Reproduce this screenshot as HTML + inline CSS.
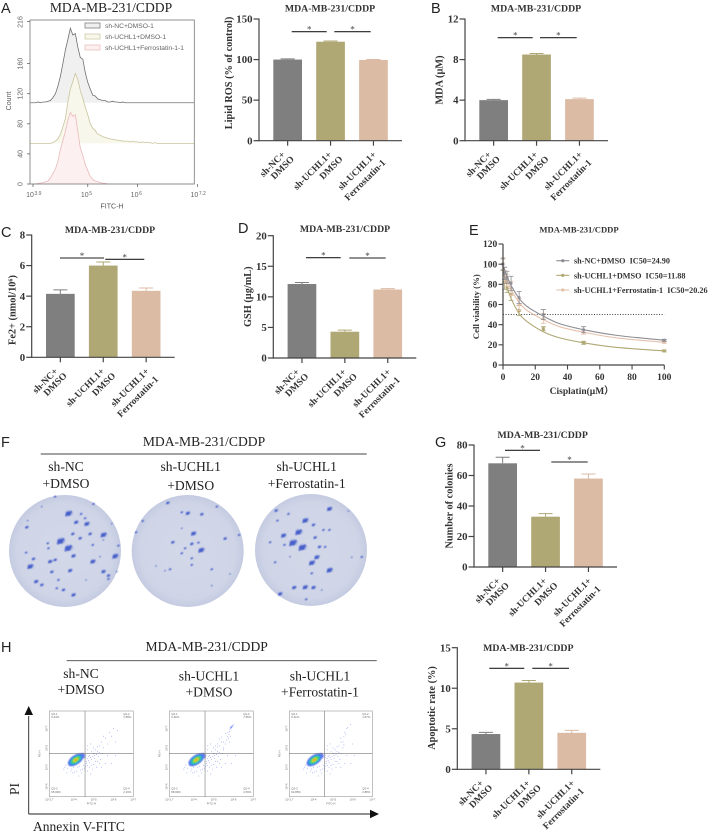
<!DOCTYPE html>
<html lang="en">
<head>
<meta charset="utf-8">
<title>MDA-MB-231/CDDP figure</title>
<style>
html,body{margin:0;padding:0;background:#fff;}
#fig{display:block;width:708px;height:833px;filter:blur(.3px);}
.serif{font-family:"Liberation Serif",serif;}
.sans{font-family:"Liberation Sans",sans-serif;}
.letter{font-family:"Liberation Sans",sans-serif;font-size:14.5px;fill:#222;}
.head{font-family:"Liberation Serif",serif;font-size:13.6px;fill:#222;text-anchor:middle;}
</style>
</head>
<body>
<svg id="fig" xmlns="http://www.w3.org/2000/svg" width="708" height="833" viewBox="0 0 708 833">
  <defs>
    <radialGradient id="dishFill" cx="50%" cy="50%" r="50%">
      <stop offset="0%" stop-color="#d3d8e9"/>
      <stop offset="85%" stop-color="#cfd5e7"/>
      <stop offset="100%" stop-color="#c4cbe1"/>
    </radialGradient>
    <filter id="soft" x="-5%" y="-5%" width="110%" height="110%"><feGaussianBlur stdDeviation=".45"/></filter>
    <filter id="softBlob" x="-30%" y="-30%" width="160%" height="160%"><feGaussianBlur stdDeviation=".6"/></filter>
  </defs>
  <rect width="708" height="833" fill="#fff"/>
  <text class="letter" x="1" y="13">A</text>
  <text class="letter" x="431" y="13">B</text>
  <text class="letter" x="1" y="237">C</text>
  <text class="letter" x="238" y="233">D</text>
  <text class="letter" x="469" y="235">E</text>
  <text class="letter" x="1" y="447">F</text>
  <text class="letter" x="435" y="447">G</text>
  <text class="letter" x="1" y="652">H</text>

  <text class="head" x="111" y="12">MDA-MB-231/CDDP</text>

  <text class="head" x="204" y="446">MDA-MB-231/CDDP</text>
  <line x1="40.7" x2="366.7" y1="454" y2="454" stroke="#444" stroke-width=".9"/>
  <text class="head" x="66" y="471">sh-NC</text>
  <text class="head" x="66" y="488">+DMSO</text>
  <text class="head" x="190.7" y="471">sh-UCHL1</text>
  <text class="head" x="190.7" y="490">+DMSO</text>
  <text class="head" x="306.7" y="471">sh-UCHL1</text>
  <text class="head" x="306.7" y="488">+Ferrostatin-1</text>

  <text class="head" x="206.7" y="651">MDA-MB-231/CDDP</text>
  <line x1="66.7" x2="376.7" y1="660.7" y2="660.7" stroke="#444" stroke-width=".9"/>
  <text class="head" x="81" y="678">sh-NC</text>
  <text class="head" x="81" y="694">+DMSO</text>
  <text class="head" x="209" y="680.7">sh-UCHL1</text>
  <text class="head" x="209" y="696.7">+DMSO</text>
  <text class="head" x="320" y="680.7">sh-UCHL1</text>
  <text class="head" x="320" y="696.7">+Ferrostatin-1</text>

  <line x1="28.7" x2="28.7" y1="716" y2="814" stroke="#222" stroke-width=".9"/>
  <polygon points="28.7,706 24.5,715 33,715" fill="#111"/>
  <line x1="28.7" x2="372" y1="814" y2="814" stroke="#222" stroke-width=".9"/>
  <polygon points="379,814 370,809.8 370,818.2" fill="#111"/>
  <text class="head" transform="translate(19 789) rotate(-90)">PI</text>
  <text class="serif" x="33" y="831" font-size="13.5" fill="#222">Annexin V-FITC</text>
</svg>
<script>
/* ---------- chart data ---------- */
const groupLabels = [['sh-NC+','DMSO'],['sh-UCHL1+','DMSO'],['sh-UCHL1+','Ferrostatin-1']];
const lipidRosValues = [100,122,99.5];
const lipidRosErrors = [0.8,0.9,0.6];
const lipidRosTicks = [0,50,100,150];
const mdaValues = [4,8.5,4.1];
const mdaErrors = [0.08,0.1,0.1];
const mdaTicks = [0,4,8,12];
const ironValues = [4.15,6,4.35];
const ironErrors = [0.26,0.23,0.18];
const ironTicks = [0,2,4,6,8];
const gshValues = [12.1,4.3,11.2];
const gshErrors = [0.25,0.25,0.15];
const gshTicks = [0,5,10,15,20];
const colonyValues = [68,33,58];
const colonyErrors = [4,2,3];
const colonyTicks = [0,20,40,60,80];
const apoptosisValues = [4.35,10.7,4.5];
const apoptosisErrors = [0.2,0.25,0.3];
const apoptosisTicks = [0,5,10,15];

const cisplatinDoses = [0,1,2.5,5,10,25,50,100];
const viabilityNc = [100,91,87,81,67,50,35,24.5];
const viabilityNcErr = [6,6,6,7,6,5,3,1];
const viabilityUchl1 = [100,82,77,70,54,36,22,14];
const viabilityUchl1Err = [6,7,5,6,5,2,1.5,1];
const viabilityFerro = [100,88,84,76,60,46,32.5,22.5];
const viabilityFerroErr = [5,6,6,7,6,5,2,1];
const fitDoses = [0,2.5,5,10,15,25,35,50,70,100];
const fitNc = [98,88,79,66,58,48.5,41,35,29.5,24.5];
const fitUchl1 = [98,78,66,51,43,33,27,22,17.5,14];
const fitFerro = [98,85,75,62,54,45,38,32.5,27,22.5];
const viabilityYTicks = [0,20,40,60,80,100,120];
const viabilityXTicks = [0,20,40,60,80,100];
const viabilityLegend = ['sh-NC+DMSO  IC50=24.90','sh-UCHL1+DMSO  IC50=11.88','sh-UCHL1+Ferrostatin-1  IC50=20.26'];

/* counts per 0.05-decade bin starting at 10^3.9, above each trace's stacking offset */
const histNc = [0,0,1,0,1,1,2,3,7,12,22,35,52,70,84,99,90,92,74,60,58,40,27,18,10,9,5,4,3,3,1,1,2,1,1,0,1,0,0,0];
const histUchl1 = [0,0,0,0,0,0,0,0,1,3,6,12,22,33,55,72,82,93,85,70,60,48,38,26,20,17,12,11,9,8,7,6,5,5,4,4,3,3,3,2,3,2,2,1,2,1,1,1,0,1,0,0,0];
const histFerro = [0,0,1,1,2,3,4,8,14,20,30,46,58,70,85,95,90,92,70,48,38,26,18,10,6,4,3,2,1,1,0,0,0];
const histOffsets = [108,54,0];
const histYTicks = [0,40,80,120,160,216];
const histXTicks = [3.9,5,6,7.2];
const histLegend = ['sh-NC+DMSO-1','sh-UCHL1+DMSO-1','sh-UCHL1+Ferrostatin-1-1'];

/* flow cytometry events as [log FITC, log PI] */
const flowCommon = [[4,5],[3.8,5.1],[3.7,4.95],[3.9,4.9],[4.2,5],[4.3,5.05],[3.75,5.3],[4.5,5.1],[4.65,5.2],[4.8,5],[5,5.15],[4.9,5.4],[5.2,5.3],[4.7,4.8],[4.4,4.7],[5.4,5],[4.8,5.6],[4.9,5.8],[5,5.7],[5.1,5.9],[5.2,5.8],[5.3,5.75],[5.15,5.65],[5,6],[5.3,6.1],[5.4,6.3],[5.5,6],[5.7,5.6],[5.9,5.2],[6.1,5.6],[5.6,5.2],[4.7,5.9],[4.7,6.1],[4.85,6.2],[4.6,5.5],[4.7,5.45],[4.75,5.35],[4.65,5.3],[4.8,5.25],[4.55,4.95],[4.9,5.1],[4.95,5.55],[5.05,5.45],[3.6,5.1],[3.5,4.9],[3.95,4.7],[4.15,4.8],[4.25,4.55],[4.85,4.65],[5.25,5.55],[5.35,5.4],[3.65,4.7],[4.6,5.05],[4.7,5.1],[4.75,5.55],[4.62,5.62],[4.85,5.5],[4.58,4.85],[4.45,4.9],[4.35,4.85],[5.1,5.3],[5.15,5],[5.3,5.2],[4.95,4.9],[3.85,4.8],[4.05,4.75],[3.55,5],[5.45,5.7],[5.05,5.6],[5.2,6.05]];
const flowNcExtra = [[5.6,6.5],[5.8,6.8],[6,7],[5.9,6.6],[6.2,6.9],[5.5,6.6],[5.7,6.2],[6.1,6.3]];
const flowUchl1Extra = [[5.88,7.07],[5.92,7.1],[5.85,7],[5.95,7.15],[5.82,6.95],[5.9,7.02],[5.98,7.12],[5.8,6.85],[5.78,6.7],[5.7,6.6],[5.75,6.5],[5.65,6.4],[5.85,6.6],[5.6,6.2],[5.5,6.3],[5.3,6.45],[5.4,6.55],[5.8,6.3],[5.72,6.8],[6.02,7.2],[5.6,6.75],[5.5,5.9],[5.2,6.2],[5.1,6.1],[5.87,7.04],[5.91,7.06],[5.89,7.12],[5.84,7.06],[5.94,7.08]];
const flowFerroExtra = [[5.55,6.6],[5.7,7],[5.75,7.05],[5.6,6.8],[5.9,7.2],[5.5,6.3],[5.65,6.7],[5.4,6.5],[5.55,6.15],[6,6.2]];
const flowCenters = [[4.1,5.38],[4.13,5.38],[4.05,5.38]];
const flowAxisX = ['10^2.7','10^4','10^5','10^6','10^7'];
const flowQuadrants = [['0.24%','1.58%','95.99%','2.19%'],['0.46%','7.56%','88.99%','2.59%'],['0.41%','1.67%','94.85%','2.88%']];

/* colonies on the three plates: [x, y, size] in plate-photo units (3 per px) */
const plateColonies = [
 [[181,349,9],[204,370,9],[205,266,8],[228,292,5],[260,297,6],[243,267,3],[255,280,3],[310,330,7],[270,327,4],[218,327,4],[240,340,4],[278,360,3],[220,393,5],[278,410,6],[345,394,7],[355,362,3],[150,410,5],[165,405,4],[90,425,7],[100,402,4],[155,441,4],[210,437,5],[108,470,5],[125,480,4],[310,440,5],[325,452,4],[325,462,3],[220,510,5],[190,495,4],[175,465,3],[80,307,4],[83,287,2],[125,245,2],[165,215,3],[280,237,3],[335,296,2],[145,370,3],[78,383,3],[300,395,2],[258,465,2],[170,490,3],[143,355,3],[310,345,2],[350,440,2]],
 [[503,234,4],[545,262,3],[563,265,5],[605,268,4],[428,288,3],[408,322,3],[580,326,6],[518,352,4],[575,357,4],[595,353,3],[603,376,7],[555,370,3],[545,385,3],[575,400,3],[575,420,3],[510,433,3],[635,433,3],[468,423,2],[495,437,2],[675,341,4],[717,330,3],[690,447,2],[635,482,2],[650,245,3],[545,310,2]],
 [[988,252,6],[865,267,3],[828,257,4],[832,287,3],[915,287,7],[895,322,8],[878,354,9],[906,368,9],[850,332,6],[940,300,4],[970,315,3],[988,315,3],[945,338,4],[810,352,3],[958,366,4],[975,366,3],[950,397,6],[935,414,7],[853,360,3],[988,436,7],[935,445,3],[825,412,3],[882,488,5],[915,487,6],[940,488,5],[840,507,5],[918,523,3],[1085,396,3],[1055,397,2],[965,495,2],[870,395,2],[1045,258,2]]
];

/* ---------- helpers ---------- */
const NS = 'http://www.w3.org/2000/svg';
const fig = document.getElementById('fig');
const GROUP_COLORS = ['#7f7f7f','#b0a874','#dcbba4'];
const AXIS = '#444';
function mk(tag, attrs, parent, txt) {
  const n = document.createElementNS(NS, tag);
  for (const k in attrs) n.setAttribute(k, attrs[k]);
  if (txt !== undefined) n.textContent = txt;
  (parent || fig).appendChild(n);
  return n;
}
function group(parent) { return mk('g', {}, parent); }
const SERIF = '"Liberation Serif",serif';
const SANS = '"Liberation Sans",sans-serif';

/* ---------- bar charts ---------- */
function barChart(o) {
  const g = group();
  
  
  const yScale = v => o.bottom - (v / o.ymax) * (o.bottom - o.top);
  const barW = 28.7, step = 42.9;
  const xBar = i => o.x0 + 14.3 + i * step;

  o.values.forEach((v, i) => {
    const c = GROUP_COLORS[i];
    const bar = mk('rect', {x: xBar(i), y: yScale(v), width: barW, height: o.bottom - yScale(v), fill: c}, g);
    
    
    const cx = xBar(i) + barW / 2;
    const top = yScale(v + o.errors[i]);
    const err = mk('path', {d: `M${cx} ${yScale(v)}V${top}M${cx - 7} ${top}H${cx + 7}`, stroke: c, 'stroke-width': 1, fill: 'none'}, g);
    
    
  });

  const yAxis = mk('line', {x1: o.x0, x2: o.x0, y1: o.top - .5, y2: o.bottom + .6, stroke: AXIS, 'stroke-width': 1.2}, g);
  
  
  const xAxis = mk('line', {x1: o.x0 - .5, x2: o.x0 + 143, y1: o.bottom, y2: o.bottom, stroke: AXIS, 'stroke-width': 1.2}, g);
  
  

  o.ticks.forEach(t => {
    const y = yScale(t);
    const tick = mk('line', {x1: o.x0 - 5.5, x2: o.x0, y1: y, y2: y, stroke: AXIS, 'stroke-width': 1.2}, g);
    
    
    const lab = mk('text', {x: o.x0 - 6.5, y: y + 3.6, 'text-anchor': 'end', 'font-family': SERIF, 'font-weight': 'bold', 'font-size': 10.8, fill: '#333'}, g, String(t));
    
    
  });

  const line1End = [[-2,14.5],[1.7,14.5],[3.4,14.5]];
  const line2End = [[7,19],[12.7,19],[12.7,22.5]];
  groupLabels.forEach((lines, i) => {
    const tx = xBar(i) + barW / 2;
    const tick = mk('line', {x1: tx, x2: tx, y1: o.bottom, y2: o.bottom + 5, stroke: AXIS, 'stroke-width': 1.2}, g);
    
    
    const a = mk('text', {transform: `translate(${tx + line1End[i][0]} ${o.bottom + line1End[i][1]}) rotate(-45)`, 'text-anchor': 'end', 'font-family': SERIF, 'font-weight': 'bold', 'font-size': 9.5, fill: '#333'}, g, lines[0]);
    
    
    const b = mk('text', {transform: `translate(${tx + line2End[i][0]} ${o.bottom + line2End[i][1]}) rotate(-45)`, 'text-anchor': 'end', 'font-family': SERIF, 'font-weight': 'bold', 'font-size': 9.5, fill: '#333'}, g, lines[1]);
    
    
  });

  const title = mk('text', {x: o.titleX, y: o.titleY, 'text-anchor': 'middle', 'font-family': SERIF, 'font-weight': 'bold', 'font-size': 9.8, fill: '#333'}, g, 'MDA-MB-231/CDDP');
  
  
  const yTitle = mk('text', {transform: `translate(${o.yTitleX + 3.5} ${o.yTitleY}) rotate(-90)`, 'text-anchor': 'middle', 'font-family': SERIF, 'font-weight': 'bold', 'font-size': 10.3, fill: '#333'}, g, o.yTitle);
  
  

  o.sig.forEach(s => {
    const ln = mk('line', {x1: o.x0 + s[0], x2: o.x0 + s[1], y1: s[2], y2: s[2], stroke: '#222', 'stroke-width': 1.1}, g);
    
    
    const st = mk('text', {x: o.x0 + (s[0] + s[1]) / 2, y: s[2] + 1, 'text-anchor': 'middle', 'font-family': SERIF, 'font-size': 9, fill: '#444'}, g, '*');
    
    
  });
}

barChart({name:'lipid-ros-chart', x0:259, top:19, bottom:140.7, ymax:150, values:lipidRosValues, errors:lipidRosErrors, ticks:lipidRosTicks,
  titleX:330, titleY:11.5, yTitle:'Lipid ROS (% of control)', yTitleX:228.7, yTitleY:73, sig:[[32.7,67.7,31.7],[75.3,111.7,31.7]]});
barChart({name:'mda-chart', x0:465, top:19, bottom:140.7, ymax:12, values:mdaValues, errors:mdaErrors, ticks:mdaTicks,
  titleX:536, titleY:11.5, yTitle:'MDA (\u00b5M)', yTitleX:439, yTitleY:80, sig:[[32.7,67.7,37.7],[75,111.7,37.7]]});
barChart({name:'iron-chart', x0:31.7, top:235, bottom:357.3, ymax:8, values:ironValues, errors:ironErrors, ticks:ironTicks,
  titleX:110, titleY:233, yTitle:'Fe2+ (nmol/10\u2076)', yTitleX:12, yTitleY:310, sig:[[28.3,72.3,258],[73.6,112.6,259.3]]});
barChart({name:'gsh-chart', x0:273.3, top:235.7, bottom:358, ymax:20, values:gshValues, errors:gshErrors, ticks:gshTicks,
  titleX:345, titleY:232, yTitle:'GSH (\u00b5g/mL)', yTitleX:247.3, yTitleY:296.7, sig:[[32.7,67.4,257.7],[76,112.4,258]]});
barChart({name:'colony-count-chart', x0:474, top:445, bottom:567, ymax:80, values:colonyValues, errors:colonyErrors, ticks:colonyTicks,
  titleX:542.7, titleY:438, yTitle:'Number of colonies', yTitleX:449, yTitleY:506, sig:[[31,66,450.3],[77.3,113.7,462]]});
barChart({name:'apoptotic-rate-chart', x0:457.3, top:647.7, bottom:769.3, ymax:15, values:apoptosisValues, errors:apoptosisErrors, ticks:apoptosisTicks,
  titleX:528.3, titleY:651, yTitle:'Apoptotic rate (%)', yTitleX:431.7, yTitleY:708, sig:[[32,67,668.3],[75,111.7,668.3]]});

/* ---------- flow histogram (panel A) ---------- */
(function () {
  const g = group();
  
  
  const L = 30, R = 194.3, T = 20, B = 184;
  const hx = lg => 33 + (lg - 3.9) * 49.8;
  const hy = c => B - c * 0.7525;
  const styles = [['#f0f0f0','#707070'],['#f8f7ec','#c9c49c'],['#fdf0f0','#e9baba']];
  [histNc, histUchl1, histFerro].forEach((series, s) => {
    const off = histOffsets[s];
    let d = `M${L} ${hy(off)}L${hx(3.9)} ${hy(off)}`;
    series.forEach((v, i) => { d += `L${hx(3.9 + i * 0.05)} ${hy(off + v)}`; });
    d += `L${R} ${hy(off)}`;
    const fill = mk('path', {d: d + 'Z', fill: styles[s][0], stroke: 'none'}, g);
    
    
    const line = mk('path', {d: d, fill: 'none', stroke: styles[s][1], 'stroke-width': .8}, g);
    
    
  });
  const frame = mk('rect', {x: L, y: T, width: R - L, height: B - T, fill: 'none', stroke: '#777', 'stroke-width': .8}, g);
  
  
  histYTicks.forEach(t => {
    const tk = mk('line', {x1: L - 3, x2: L, y1: hy(t), y2: hy(t), stroke: '#555', 'stroke-width': .7}, g);
    
    
    const lb = mk('text', {transform: `translate(22.5 ${Math.max(hy(t), 22)}) rotate(-90)`, 'text-anchor': 'middle', 'font-family': SANS, 'font-size': 7, fill: '#666'}, g, String(t));
    
    
  });
  histXTicks.forEach(t => {
    const tk = mk('line', {x1: hx(t), x2: hx(t), y1: B, y2: B + 3, stroke: '#555', 'stroke-width': .7}, g);
    
    
    const lb = mk('text', {x: hx(t) - 3, y: 197, 'text-anchor': 'middle', 'font-family': SANS, 'font-size': 7, fill: '#666'}, g, '10');
    
    
    const ex = mk('text', {x: hx(t) + 1.5, y: 195, 'font-family': SANS, 'font-size': 5, fill: '#666'}, g, String(t));
    
    
  });
  const yt = mk('text', {transform: 'translate(11 101) rotate(-90)', 'text-anchor': 'middle', 'font-family': SANS, 'font-size': 7, fill: '#555'}, g, 'Count');
  
  
  const xt = mk('text', {x: 112, y: 208.5, 'text-anchor': 'middle', 'font-family': SANS, 'font-size': 7, fill: '#555'}, g, 'FITC-H');
  
  
  histLegend.forEach((t, i) => {
    const y = 23 + i * 11;
    const sw = mk('rect', {x: 85, y: y, width: 15, height: 5, fill: styles[i][0], stroke: styles[i][1], 'stroke-width': .7}, g);
    
    
    const tx = mk('text', {x: 105, y: y + 5, 'font-family': SANS, 'font-size': 6.7, fill: '#666'}, g, t);
    
    
  });
})();

/* ---------- viability curves (panel E) ---------- */
(function () {
  const g = group();
  
  
  const vx = d => 503 + d * 1.613;
  const vy = v => 365 - v * (121 / 120);
  const colors = ['#8d8d93','#b0a874','#e5c2ac'];
  function smooth(xs, ys) {
    const pts = xs.map((x, i) => [vx(x), vy(ys[i])]);
    let d = `M${pts[0][0]} ${pts[0][1]}`;
    for (let i = 0; i < pts.length - 1; i++) {
      const p0 = pts[Math.max(0, i - 1)], p1 = pts[i], p2 = pts[i + 1], p3 = pts[Math.min(pts.length - 1, i + 2)];
      const h = p2[0] - p1[0];
      const m1 = (p2[1] - p0[1]) / (p2[0] - p0[0]), m2 = (p3[1] - p1[1]) / (p3[0] - p1[0]);
      d += `C${p1[0] + h / 3} ${p1[1] + m1 * h / 3} ${p2[0] - h / 3} ${p2[1] - m2 * h / 3} ${p2[0]} ${p2[1]}`;
    }
    return d;
  }
  const ref = mk('line', {x1: vx(0), x2: vx(100), y1: vy(50), y2: vy(50), stroke: '#222', 'stroke-width': .9, 'stroke-dasharray': '1 1.6'}, g);
  
  
  const fits = [fitNc, fitUchl1, fitFerro];
  const vals = [viabilityNc, viabilityUchl1, viabilityFerro];
  const errs = [viabilityNcErr, viabilityUchl1Err, viabilityFerroErr];
  [1, 2, 0].forEach(s => {
    const c = mk('path', {d: smooth(fitDoses, fits[s]), fill: 'none', stroke: colors[s], 'stroke-width': 1.1}, g);
    
    
    cisplatinDoses.forEach((d, i) => {
      const x = vx(d), y = vy(vals[s][i]), e = errs[s][i] * 121 / 120;
      const eb = mk('path', {d: `M${x} ${y - e}V${y + e}M${x - 2.5} ${y - e}H${x + 2.5}M${x - 2.5} ${y + e}H${x + 2.5}`, stroke: colors[s], 'stroke-width': .8, fill: 'none'}, g);
      
      
      const pt = s === 1 ? mk('rect', {x: x - 1.5, y: y - 1.5, width: 3, height: 3, fill: colors[s]}, g) : mk('circle', {cx: x, cy: y, r: 1.5, fill: colors[s]}, g);
      
      
    });
  });
  const ya = mk('line', {x1: vx(0), x2: vx(0), y1: vy(120), y2: vy(0) + .6, stroke: AXIS, 'stroke-width': 1.2}, g);
  
  
  const xa = mk('line', {x1: vx(0) - .6, x2: vx(100), y1: vy(0), y2: vy(0), stroke: AXIS, 'stroke-width': 1.2}, g);
  
  
  viabilityYTicks.forEach(t => {
    const k = mk('line', {x1: vx(0) - 4.5, x2: vx(0), y1: vy(t), y2: vy(t), stroke: AXIS, 'stroke-width': 1.1}, g);
    
    
    const l = mk('text', {x: vx(0) - 5.8, y: vy(t) + 3.2, 'text-anchor': 'end', 'font-family': SERIF, 'font-weight': 'bold', 'font-size': 9.5, fill: '#333'}, g, String(t));
    
    
  });
  viabilityXTicks.forEach(t => {
    const k = mk('line', {x1: vx(t), x2: vx(t), y1: vy(0), y2: vy(0) + 4.5, stroke: AXIS, 'stroke-width': 1.1}, g);
    
    
    const l = mk('text', {x: vx(t), y: 380, 'text-anchor': 'middle', 'font-family': SERIF, 'font-weight': 'bold', 'font-size': 9.5, fill: '#333'}, g, String(t));
    
    
  });
  const title = mk('text', {x: 579, y: 232.6, 'text-anchor': 'middle', 'font-family': SERIF, 'font-weight': 'bold', 'font-size': 8.6, fill: '#333'}, g, 'MDA-MB-231/CDDP');
  
  
  const yt = mk('text', {transform: 'translate(479 306.7) rotate(-90)', 'text-anchor': 'middle', 'font-family': SERIF, 'font-weight': 'bold', 'font-size': 8.8, fill: '#333'}, g, 'Cell viability (%)');
  
  
  const xt = mk('text', {x: 581.7, y: 394, 'text-anchor': 'middle', 'font-family': SERIF, 'font-weight': 'bold', 'font-size': 9.5, fill: '#333'}, g, 'Cisplatin(\u00b5M\uff09');
  
  
  viabilityLegend.forEach((t, i) => {
    const y = 260.7 + i * 14.65;
    const ln = mk('line', {x1: 556.3, x2: 569.3, y1: y, y2: y, stroke: colors[i], 'stroke-width': 1.1}, g);
    
    
    const mark = mk('circle', {cx: 562.8, cy: y, r: 1.6, fill: colors[i]}, g);
    
    
    const tx = mk('text', {x: 574, y: y + 3, 'font-family': SERIF, 'font-weight': 'bold', 'font-size': 8.2, fill: '#333', style: 'white-space:pre'}, g, t);
    
    
  });
})();

/* ---------- colony plates (panel F) ---------- */
(function () {
  const centers = [[65, 551], [187.7, 551], [311, 550]];
  plateColonies.forEach((cols, p) => {
    const g = group();
    
    
    const dish = mk('circle', {cx: centers[p][0], cy: centers[p][1], r: 56, fill: 'url(#dishFill)'}, g);
    
    
    const spots = group(g);
    spots.setAttribute('filter', 'url(#soft)');
    cols.forEach(c => {
      const x = c[0] / 3, y = 425 + c[1] / 3, r = c[2] / 3;
      const halo = mk('ellipse', {cx: x + r * .3, cy: y - r * .2, rx: r * 1.5, ry: r * 1.2, fill: '#8496d8', opacity: .4}, spots);
      
      
      const dot = mk('ellipse', {cx: x, cy: y, rx: r, ry: r * .82, fill: '#3d56c8', opacity: .9}, spots);
      
      
      const sat = mk('circle', {cx: x + r * .9, cy: y - r * .6, r: r * .5, fill: '#4a62cc', opacity: .85}, spots);
      
      
      const sat2 = mk('circle', {cx: x - r * .8, cy: y + r * .7, r: r * .42, fill: '#4a62cc', opacity: .8}, spots);
      
      
    });
  });
})();

/* ---------- flow cytometry quadrant plots (panel H) ---------- */
(function () {
  const frames = [[49.3,133.3],[169.3,253.3],[289.3,372.3]];
  const top = 711, bot = 796.7;
  const extras = [flowNcExtra, flowUchl1Extra, flowFerroExtra];
  const rings = [[9,4.8,'#6a80ee'],[7.8,4,'#3a7fe8'],[6.3,3.3,'#2cc0c0'],[4.8,2.5,'#46d060'],[3.2,1.7,'#c8dc30'],[1.7,.9,'#f0a020']];
  frames.forEach((f, p) => {
    const g = group();
    
    
    const fx = lg => f[0] + (lg - 2.77) * (f[1] - f[0]) / 4.23;
    const fy = lg => bot - (lg - 3.48) * (bot - top) / 4.42;
    const box = mk('rect', {x: f[0], y: top, width: f[1] - f[0], height: bot - top, fill: '#fff', stroke: '#999', 'stroke-width': .6}, g);
    
    
    flowCommon.concat(extras[p]).forEach(d => {
      const e = mk('circle', {cx: fx(d[0]), cy: fy(d[1]), r: .5, fill: '#5a6cf0', opacity: .55}, g);
      
      
    });
    const c = flowCenters[p];
    const cx = fx(c[0]), cy = fy(c[1]);
    const blob = group(g);
    blob.setAttribute('filter', 'url(#softBlob)');
    const lobe = mk('ellipse', {cx: cx + 6.5, cy: cy - 4, rx: 2.8, ry: 3, fill: '#3f55e8', opacity: .8}, blob);
    
    
    rings.forEach(r => {
      const el = mk('ellipse', {cx: cx, cy: cy, rx: r[0], ry: r[1], fill: r[2], transform: `rotate(-35 ${cx} ${cy})`}, blob);
      
      
    });
    const vq = mk('line', {x1: fx(4.57), x2: fx(4.57), y1: top, y2: bot, stroke: '#777', 'stroke-width': .6}, g);
    
    
    const hq = mk('line', {x1: f[0], x2: f[1], y1: fy(5.72), y2: fy(5.72), stroke: '#777', 'stroke-width': .6}, g);
    
    
    const qn = ['Q2-1','Q2-2','Q2-3','Q2-4'];
    const qpos = [[f[0] + 2, top + 4],[f[1] - 10, top + 4],[f[0] + 2, bot - 7],[f[1] - 10, bot - 7]];
    qn.forEach((q, i) => {
      const a = mk('text', {x: qpos[i][0], y: qpos[i][1], 'font-family': SANS, 'font-size': 2.8, fill: '#666'}, g, q);
      
      
      const b = mk('text', {x: qpos[i][0], y: qpos[i][1] + 3.2, 'font-family': SANS, 'font-size': 2.8, fill: '#666'}, g, flowQuadrants[p][i]);
      
      
    });
    [2.77,4,5,6,7].forEach((t, i) => {
      const l = mk('text', {x: fx(t), y: bot + 4, 'text-anchor': 'middle', 'font-family': SANS, 'font-size': 2.8, fill: '#666'}, g, flowAxisX[i]);
      
      
    });
    [4,5,6,7].forEach((t, i) => {
      const l = mk('text', {transform: `translate(${f[0] - 2} ${fy(t)}) rotate(-90)`, 'text-anchor': 'middle', 'font-family': SANS, 'font-size': 2.8, fill: '#666'}, g, flowAxisX[i + 1]);
      
      
    });
    const xt = mk('text', {x: (f[0] + f[1]) / 2, y: bot + 8, 'text-anchor': 'middle', 'font-family': SANS, 'font-size': 2.8, fill: '#666'}, g, 'FITC-H');
    
    
    const yt = mk('text', {transform: `translate(${f[0] - 9} ${(top + bot) / 2}) rotate(-90)`, 'text-anchor': 'middle', 'font-family': SANS, 'font-size': 2.8, fill: '#666'}, g, 'PE-H');
    
    
  });
})();
</script>
</body>
</html>
